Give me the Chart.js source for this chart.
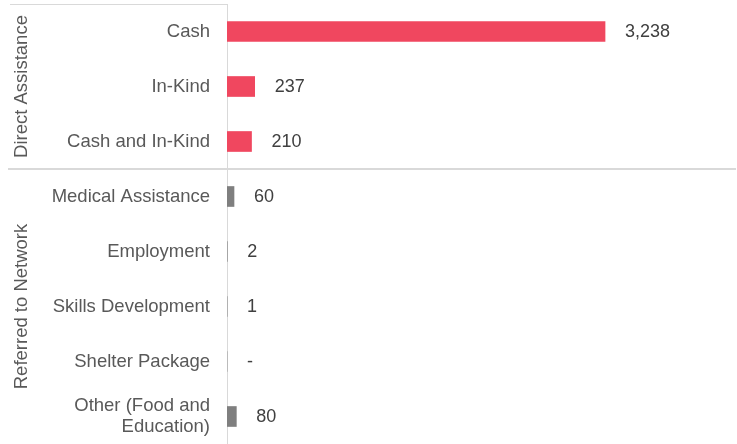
<!DOCTYPE html>
<html>
<head>
<meta charset="utf-8">
<script src="https://cdn.jsdelivr.net/npm/chart.js@4/dist/chart.umd.min.js"></script>
<style>
  html, body { margin: 0; padding: 0; background: #ffffff; }
  #wrap { width: 737px; height: 444px; position: relative; }
</style>
</head>
<body>
<div id="wrap"><canvas id="c"></canvas></div>
<script>
const categories = [
  'Cash',
  'In-Kind',
  'Cash and In-Kind',
  'Medical Assistance',
  'Employment',
  'Skills Development',
  'Shelter Package',
  ['Other (Food and', 'Education)']
];
const values = [3238, 237, 210, 60, 2, 1, 0, 80];
const groupLabels = ['Direct Assistance', 'Referred to Network'];
const groupSizes = [3, 5];

const groupColors = ['#F0475F', '#7F7F7F'];
const FONT = '"Liberation Sans", Arial, sans-serif';

const barColors = [];
groupSizes.forEach((n, g) => { for (let i = 0; i < n; i++) barColors.push(groupColors[g]); });

const decorPlugin = {
  id: 'decor',
  afterDatasetsDraw(chart) {
    const ctx = chart.ctx;
    const y = chart.scales.y;
    const area = chart.chartArea;
    const meta = chart.getDatasetMeta(0);
    ctx.save();
    // value labels
    ctx.font = '18px ' + FONT;
    ctx.fillStyle = '#404040';
    ctx.textAlign = 'left';
    ctx.textBaseline = 'middle';
    meta.data.forEach((bar, i) => {
      const v = values[i];
      const txt = v === 0 ? '-' : v.toLocaleString('en-US');
      ctx.fillText(txt, bar.x + 20, bar.y + 1);
    });
    // lines
    ctx.strokeStyle = '#d9d9d9';
    ctx.lineWidth = 1;
    ctx.beginPath();
    ctx.moveTo(10, Math.round(area.top) + 0.5);
    ctx.lineTo(y.right, Math.round(area.top) + 0.5);
    ctx.stroke();
    let start = 0;
    groupSizes.forEach((n, g) => {
      const end = start + n - 1;
      const top = start === 0 ? area.top : (y.getPixelForValue(start - 1) + y.getPixelForValue(start)) / 2;
      const bottom = end === categories.length - 1 ? area.bottom : (y.getPixelForValue(end) + y.getPixelForValue(end + 1)) / 2;
      if (end < categories.length - 1) {
        ctx.lineWidth = 2;
        ctx.beginPath();
        ctx.moveTo(8, bottom);
        ctx.lineTo(736, bottom);
        ctx.stroke();
      }
      ctx.save();
      ctx.translate(22, (top + bottom) / 2);
      ctx.rotate(-Math.PI / 2);
      ctx.font = '18.5px ' + FONT;
      ctx.fillStyle = '#595959';
      ctx.textAlign = 'center';
      ctx.textBaseline = 'middle';
      ctx.fillText(groupLabels[g], 0, 0);
      ctx.restore();
      start += n;
    });
    ctx.restore();
  }
};

new Chart(document.getElementById('c'), {
  type: 'bar',
  data: {
    labels: categories,
    datasets: [{
      data: values,
      backgroundColor: barColors,
      borderWidth: 0,
      barThickness: 20
    }]
  },
  options: {
    indexAxis: 'y',
    responsive: true,
    maintainAspectRatio: false,
    animation: false,
    layout: { padding: { top: 4, right: 43, bottom: 0, left: 0 } },
    plugins: { legend: { display: false }, tooltip: { enabled: false } },
    scales: {
      x: {
        display: false,
        min: 0,
        max: 4000
      },
      y: {
        afterFit(scale) {
          scale.width = 227;
          scale.paddingTop = 0;
          scale.paddingBottom = 0;
        },
        grid: { display: false, drawTicks: false },
        border: { display: true, color: '#d9d9d9', width: 1 },
        ticks: {
          padding: 17,
          color: '#595959',
          font: { family: FONT, size: 18.5, lineHeight: 1.15 }
        }
      }
    }
  },
  plugins: [decorPlugin]
});
</script>
</body>
</html>
